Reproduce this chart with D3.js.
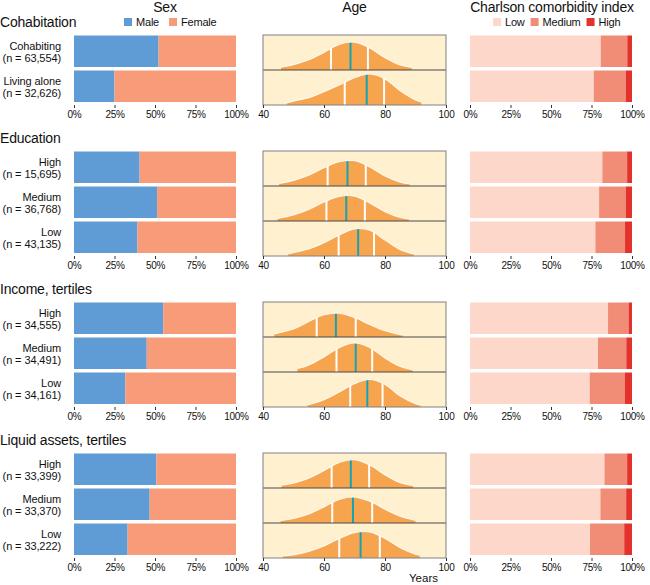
<!DOCTYPE html>
<html><head><meta charset="utf-8">
<script src="https://cdn.jsdelivr.net/npm/d3@7"></script>
<style>
body{margin:0;background:#fff}
svg{font-family:"Liberation Sans",Arial,Helvetica,sans-serif}
</style>
</head><body>
<svg id="chart" width="650" height="585"></svg>
<script>
// ---------------- data ----------------
const sectionTitles = ["Cohabitation", "Education", "Income, tertiles", "Liquid assets, tertiles"];
const rowNames = [["Cohabiting", "Living alone"], ["High", "Medium", "Low"], ["High", "Medium", "Low"], ["High", "Medium", "Low"]];
const rowCounts = [["63,554", "32,626"], ["15,695", "36,768", "43,135"], ["34,555", "34,491", "34,161"], ["33,399", "33,370", "33,222"]];

const sexLegend = ["Male", "Female"];
const malePct = [[52.2, 25.0], [40.5, 51.3, 39.2], [55.1, 44.9, 31.7], [50.8, 46.7, 33.1]];

const charlsonLegend = ["Low", "Medium", "High"];
const charlsonLowPct = [[80.7, 76.4], [81.7, 79.7, 77.4], [85.2, 79.0, 73.9], [83.0, 80.5, 74.1]];
const charlsonMediumPct = [[16.4, 19.7], [15.3, 16.5, 18.3], [12.7, 17.5, 21.6], [14.0, 15.9, 21.1]];

const ageQ1 = [[62.3, 66.8], [61.2, 60.8, 64.8], [57.6, 64.1, 68.6], [62.5, 62.7, 65.0]];
const ageMedian = [[68.7, 74.0], [67.7, 67.3, 71.2], [63.9, 70.4, 74.2], [68.8, 69.5, 72.0]];
const ageQ3 = [[74.4, 79.7], [73.7, 73.4, 76.4], [70.4, 75.8, 79.2], [74.8, 75.8, 78.3]];

// age density, [age (years), density (% per year)]
const cohabitationDensity = [
  [[45.9,0.4],[50,0.75],[55,1.45],[60,2.5],[65,3.64],[70,3.98],[75,3.14],[80,1.76],[85,0.72],[88.8,0.38]],
  [[47.8,0.3],[50,0.55],[55,1.05],[60,1.9],[65,2.86],[70,3.89],[75,4.42],[80,3.73],[85,2.02],[90,0.7],[91.9,0.42]]
];
const educationDensity = [
  [[45.3,0.35],[50,0.8],[55,1.55],[60,2.59],[65,3.46],[70,3.61],[75,2.72],[80,1.44],[85,0.55],[88.1,0.3]],
  [[44.8,0.35],[50,0.85],[55,1.64],[60,2.71],[65,3.51],[70,3.55],[75,2.58],[80,1.33],[85,0.5],[87.8,0.3]],
  [[48.3,0.33],[50,0.5],[55,1.0],[60,1.9],[65,3.0],[70,3.87],[75,3.67],[80,2.27],[85,0.9],[89.4,0.3]]
];
const incomeDensity = [
  [[43.7,0.45],[50,1.15],[55,2.2],[60,3.18],[65,3.39],[70,2.78],[75,1.77],[80,0.88],[85,0.34],[85.8,0.3]],
  [[51.3,0.5],[55,0.98],[60,2.15],[65,3.48],[70,4.14],[75,3.49],[80,1.99],[85,0.77],[89.1,0.3]],
  [[54.6,0.3],[60,1.04],[65,2.13],[70,3.32],[75,3.92],[80,3.2],[85,1.56],[90,0.46],[91.7,0.27]]
];
const liquidDensity = [
  [[46.1,0.4],[50,0.7],[55,1.4],[60,2.49],[65,3.65],[70,4.05],[75,3.27],[80,1.87],[85,0.75],[89.2,0.35]],
  [[45.8,0.35],[50,0.65],[55,1.3],[60,2.3],[65,3.35],[70,3.7],[75,3.1],[80,1.97],[85,0.95],[90,0.35]],
  [[46.6,0.3],[50,0.45],[55,0.95],[60,1.71],[65,2.79],[70,3.63],[75,3.73],[80,2.79],[85,1.48],[90,0.55],[91.4,0.4]]
];
const ageDensity = [cohabitationDensity, educationDensity, incomeDensity, liquidDensity];

const pctTicks = [0, 25, 50, 75, 100];
const ageTicks = [40, 60, 80, 100];

// ---------------- layout / style ----------------
const C = {
  male: "#5f9bd4", female: "#f89b79",
  low: "#fcd7ca", med: "#f18d77", high: "#e3312b",
  ageBg: "#fff1d0", ageFill: "#f6a54e", teal: "#17a2b4",
  text: "#111"
};
const rowH = 35, sectionGap = 46, firstTop = 35;
const sexX = [74, 236], ageX = [263, 446], chX = [470, 632];

const svg = d3.select("#chart");
const xSex = d3.scaleLinear().domain([0, 100]).range(sexX);
const xCh = d3.scaleLinear().domain([0, 100]).range(chX);
const xAge = d3.scaleLinear().domain([40, 100]).range(ageX);

// headers
const hdr = svg.append("g").attr("font-size", 14).attr("fill", C.text).attr("text-anchor", "middle").attr("letter-spacing", -0.2);
hdr.append("text").attr("x", 165).attr("y", 12).text("Sex");
hdr.append("text").attr("x", d3.mean(ageX)).attr("y", 12).text("Age");
hdr.append("text").attr("x", 552).attr("y", 12).text("Charlson comorbidity index");

function legend(items, colors, x0, gaps) {
  const g = svg.append("g").attr("font-size", 11).attr("fill", C.text).attr("letter-spacing", -0.2);
  let x = x0;
  items.forEach((t, i) => {
    g.append("rect").attr("x", x).attr("y", 18).attr("width", 8).attr("height", 8).attr("fill", colors[i]);
    const tx = g.append("text").attr("x", x + 12).attr("y", 26).text(t);
    x += 12 + tx.node().getComputedTextLength() + gaps;
  });
}
legend(sexLegend, [C.male, C.female], 124, 10);
legend(charlsonLegend, [C.low, C.med, C.high], 493, 6);

// sections
let panelTop = firstTop;
sectionTitles.forEach((title, s) => {
  const rows = rowNames[s];
  const n = rows.length;
  const bottom = panelTop + n * rowH;
  const yBand = d3.scaleBand().domain(d3.range(n)).range([panelTop, bottom]).padding(0);

  svg.append("text").attr("x", 0).attr("y", panelTop - 8).attr("font-size", 14).attr("letter-spacing", -0.2)
    .attr("fill", C.text).text(title);

  // row labels
  const lab = svg.append("g").attr("font-size", 11).attr("letter-spacing", -0.1).attr("fill", C.text).attr("text-anchor", "end");
  rows.forEach((r, i) => {
    const cy = yBand(i) + rowH / 2;
    lab.append("text").attr("x", 61).attr("y", cy - 3).text(r);
    lab.append("text").attr("x", 61).attr("y", cy + 9.5).text(`(n = ${rowCounts[s][i]})`);
  });

  // Sex bars
  const gs = svg.append("g");
  rows.forEach((r, i) => {
    const y = yBand(i) + 0.5, h = rowH - 3.5;
    const m = malePct[s][i];
    gs.append("rect").attr("x", xSex(0)).attr("y", y).attr("width", xSex(m) - xSex(0)).attr("height", h).attr("fill", C.male);
    gs.append("rect").attr("x", xSex(m)).attr("y", y).attr("width", xSex(100) - xSex(m)).attr("height", h).attr("fill", C.female);
  });

  // Charlson bars
  const gc = svg.append("g");
  rows.forEach((r, i) => {
    const y = yBand(i) + 0.5, h = rowH - 3.5;
    const lo = charlsonLowPct[s][i], me = charlsonMediumPct[s][i];
    const segs = [[0, lo, C.low], [lo, lo + me, C.med], [lo + me, 100, C.high]];
    segs.forEach(([a, b, col]) => {
      gc.append("rect").attr("x", xCh(a)).attr("y", y).attr("width", xCh(b) - xCh(a)).attr("height", h).attr("fill", col);
    });
  });

  // Age panel
  const ga = svg.append("g");
  ga.append("rect").attr("x", ageX[0]).attr("y", panelTop).attr("width", ageX[1] - ageX[0]).attr("height", n * rowH).attr("fill", C.ageBg);
  rows.forEach((r, i) => {
    const base = yBand(i) + rowH;
    const yD = d3.scaleLinear().domain([0, 5]).range([base, base - rowH]);
    const pts = ageDensity[s][i];
    const area = d3.area().curve(d3.curveCatmullRom.alpha(0.5)).x(d => xAge(d[0])).y0(base).y1(d => yD(d[1]));
    const line = d3.line().curve(d3.curveCatmullRom.alpha(0.5)).x(d => xAge(d[0])).y(d => yD(d[1]));
    const cid = `clip-${s}-${i}`;
    ga.append("clipPath").attr("id", cid).append("path").attr("d", area(pts));
    ga.append("path").attr("d", area(pts)).attr("fill", C.ageFill);
    const gl = ga.append("g").attr("clip-path", `url(#${cid})`);
    [[ageQ1[s][i], "#fff"], [ageQ3[s][i], "#fff"], [ageMedian[s][i], C.teal]].forEach(([v, col]) => {
      gl.append("line").attr("x1", xAge(v)).attr("x2", xAge(v)).attr("y1", base).attr("y2", base - rowH)
        .attr("stroke", col).attr("stroke-width", 2);
    });
    ga.append("path").attr("d", line(pts)).attr("fill", "none").attr("stroke", "#fff").attr("stroke-opacity", 0.85).attr("stroke-width", 1.1);
    if (i < n - 1) {
      ga.append("line").attr("x1", ageX[0]).attr("x2", ageX[1]).attr("y1", base).attr("y2", base)
        .attr("stroke", "#4a4a4a").attr("stroke-width", 1.2);
    }
  });
  ga.append("rect").attr("x", ageX[0]).attr("y", panelTop).attr("width", ageX[1] - ageX[0]).attr("height", n * rowH)
    .attr("fill", "none").attr("stroke", "#808080").attr("stroke-width", 1);

  // axes
  const styleAxis = g => {
    g.select(".domain").remove();
    g.selectAll(".tick line").attr("stroke", "#333");
    g.selectAll(".tick text").attr("font-size", 10).attr("letter-spacing", -0.3).attr("fill", C.text)
      .attr("font-family", "Liberation Sans, Arial, sans-serif");
  };
  svg.append("g").attr("transform", `translate(0,${bottom})`)
    .call(d3.axisBottom(xSex).tickValues(pctTicks).tickFormat(d => d + "%").tickSize(3).tickPadding(3)).call(styleAxis);
  svg.append("g").attr("transform", `translate(0,${bottom})`)
    .call(d3.axisBottom(xAge).tickValues(ageTicks).tickSize(3).tickPadding(3)).call(styleAxis);
  svg.append("g").attr("transform", `translate(0,${bottom})`)
    .call(d3.axisBottom(xCh).tickValues(pctTicks).tickFormat(d => d + "%").tickSize(3).tickPadding(3)).call(styleAxis);

  panelTop = bottom + sectionGap;
});

svg.append("text").attr("x", 438).attr("y", 582).attr("text-anchor", "end").attr("font-size", 11.5).attr("fill", C.text).text("Years");
</script>
</body></html>
